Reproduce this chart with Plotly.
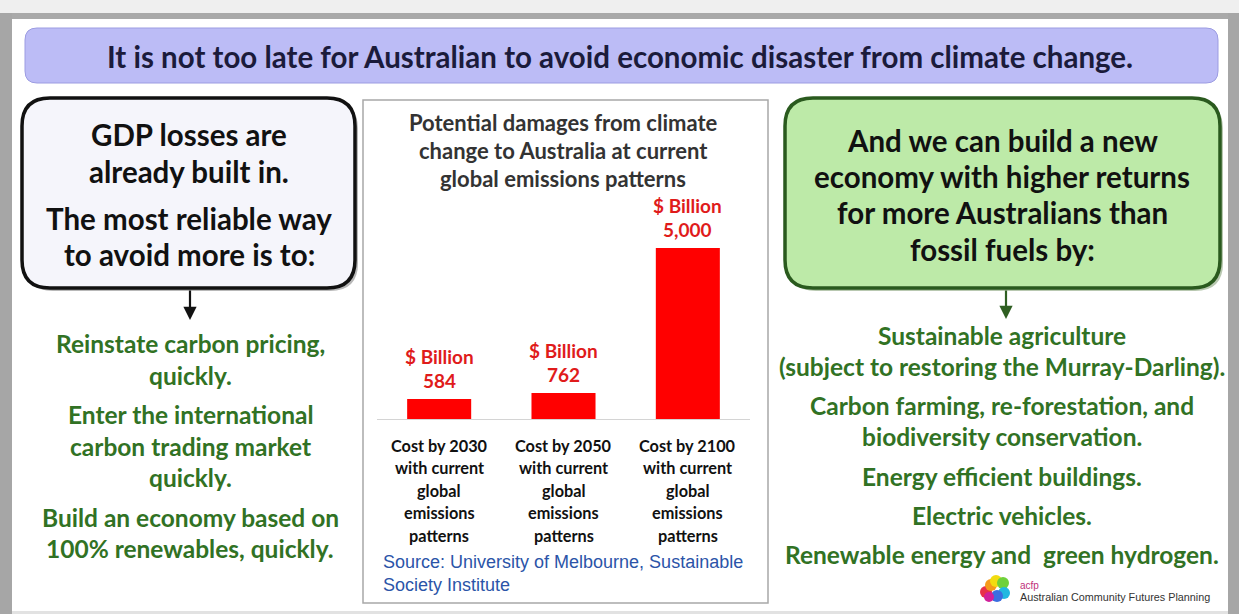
import plotly.graph_objects as go

W, H = 1239, 614

# ---------------- data ----------------
categories = ["Cost by 2030", "Cost by 2050", "Cost by 2100"]
damages = [584, 762, 5000]                      # $ Billion
value_labels = ["584", "762", "5,000"]
unit_label = "$ Billion"
category_lines = [
    ["Cost by 2030", "with current", "global", "emissions", "patterns"],
    ["Cost by 2050", "with current", "global", "emissions", "patterns"],
    ["Cost by 2100", "with current", "global", "emissions", "patterns"],
]
chart_title_lines = ["Potential damages from climate",
                     "change to Australia at current",
                     "global emissions patterns"]
source_lines = ["Source: University of Melbourne, Sustainable",
                "Society Institute"]
main_title = "It is not too late for Australian to avoid economic disaster from climate change."
left_box_lines = ["GDP losses are", "already built in.",
                  "The most reliable way", "to avoid more is to:"]
left_actions = ["Reinstate carbon pricing,", "quickly.",
                "Enter the international", "carbon trading market", "quickly.",
                "Build an economy based on", "100% renewables, quickly."]
right_box_lines = ["And we can build a new", "economy with higher returns",
                   "for more Australians than", "fossil fuels by:"]
right_actions = ["Sustainable agriculture",
                 "(subject to restoring the Murray-Darling).",
                 "Carbon farming, re-forestation, and",
                 "biodiversity conservation.",
                 "Energy efficient buildings.",
                 "Electric vehicles.",
                 "Renewable energy and  green hydrogen."]
logo_name = "acfp"
logo_text = "Australian Community Futures Planning"

# ---------------- helpers ----------------
def X(px):
    return px / W

def Y(py):
    return 1 - py / H

def rrect(x0, y0, x1, y1, r):
    pts = [
        f"M {X(x0 + r)},{Y(y0)}",
        f"L {X(x1 - r)},{Y(y0)}",
        f"Q {X(x1)},{Y(y0)} {X(x1)},{Y(y0 + r)}",
        f"L {X(x1)},{Y(y1 - r)}",
        f"Q {X(x1)},{Y(y1)} {X(x1 - r)},{Y(y1)}",
        f"L {X(x0 + r)},{Y(y1)}",
        f"Q {X(x0)},{Y(y1)} {X(x0)},{Y(y1 - r)}",
        f"L {X(x0)},{Y(y0 + r)}",
        f"Q {X(x0)},{Y(y0)} {X(x0 + r)},{Y(y0)}",
        "Z",
    ]
    return " ".join(pts)

FONT = "Lato"
GREEN_TXT = "#317224"
RED = "#ff0000"

fig = go.Figure()

fig.add_trace(go.Bar(
    x=categories, y=damages,
    marker=dict(color=RED, line=dict(width=0)),
    hoverinfo="skip", showlegend=False,
))

shapes = []
ann = []

# screenshot frame
shapes.append(dict(type="rect", xref="paper", yref="paper", x0=X(0), x1=X(W), y0=Y(0), y1=Y(13),
                   fillcolor="#efefef", line=dict(width=0), layer="below"))
shapes.append(dict(type="rect", xref="paper", yref="paper", x0=X(0), x1=X(W), y0=Y(13), y1=Y(19),
                   fillcolor="#a9a9a9", line=dict(width=0), layer="below"))
shapes.append(dict(type="rect", xref="paper", yref="paper", x0=X(0), x1=X(12), y0=Y(13), y1=Y(H),
                   fillcolor="#a6a6a6", line=dict(width=0), layer="below"))
shapes.append(dict(type="rect", xref="paper", yref="paper", x0=X(1228), x1=X(W), y0=Y(13), y1=Y(H),
                   fillcolor="#a6a6a6", line=dict(width=0), layer="below"))
shapes.append(dict(type="rect", xref="paper", yref="paper", x0=X(12), x1=X(1228), y0=Y(H), y1=Y(611),
                   fillcolor="#e2e2e2", line=dict(width=0), layer="below"))

# title bar
shapes.append(dict(type="path", xref="paper", yref="paper", path=rrect(25, 28, 1218, 83, 12),
                   fillcolor="#bcbcf6", line=dict(color="#9c9ce2", width=1), layer="below"))
ann.append(dict(x=X(620), y=Y(56), xref="paper", yref="paper", text=main_title, showarrow=False,
                font=dict(family=FONT, size=29.5, color="#1b1b3b", weight="bold"),
                xanchor="center", yanchor="middle"))

# left box (shadow + box)
shapes.append(dict(type="path", xref="paper", yref="paper", path=rrect(25, 101, 358, 291, 28),
                   fillcolor="#b8b8b8", line=dict(width=0), layer="below"))
shapes.append(dict(type="path", xref="paper", yref="paper", path=rrect(22, 98, 355, 288, 28),
                   fillcolor="#f5f5fb", line=dict(color="#111111", width=3.5), layer="below"))
for t, yy in zip(left_box_lines, [134, 171, 219, 255]):
    ann.append(dict(x=X(189), y=Y(yy), xref="paper", yref="paper", text=t, showarrow=False,
                    font=dict(family=FONT, size=29.5, color="#111111", weight="bold"),
                    xanchor="center", yanchor="middle"))

# right box (shadow + box)
shapes.append(dict(type="path", xref="paper", yref="paper", path=rrect(788, 101, 1223, 291, 28),
                   fillcolor="#b8c8b0", line=dict(width=0), layer="below"))
shapes.append(dict(type="path", xref="paper", yref="paper", path=rrect(785, 98, 1220, 288, 28),
                   fillcolor="#bdeaa8", line=dict(color="#2a5a1e", width=3.5), layer="below"))
for t, yy in zip(right_box_lines, [140, 176, 213, 250]):
    ann.append(dict(x=X(1002), y=Y(yy), xref="paper", yref="paper", text=t, showarrow=False,
                    font=dict(family=FONT, size=29.5, color="#111111", weight="bold"),
                    xanchor="center", yanchor="middle"))

# arrows
ann.append(dict(x=X(190), y=Y(320), xref="paper", yref="paper", ax=0, ay=-31, text="",
                showarrow=True, arrowhead=2, arrowsize=1.2, arrowwidth=2.2, arrowcolor="#111111"))
ann.append(dict(x=X(1006), y=Y(319), xref="paper", yref="paper", ax=0, ay=-30, text="",
                showarrow=True, arrowhead=2, arrowsize=1.2, arrowwidth=2.2, arrowcolor="#2f5f22"))

# left actions
for t, yy in zip(left_actions, [343, 375, 414, 446, 477, 517, 548]):
    ann.append(dict(x=X(190), y=Y(yy), xref="paper", yref="paper", text=t, showarrow=False,
                    font=dict(family=FONT, size=24.5, color=GREEN_TXT, weight="bold"),
                    xanchor="center", yanchor="middle"))

# right actions
for t, yy in zip(right_actions, [335, 366, 405, 436, 476, 515, 554]):
    ann.append(dict(x=X(1002), y=Y(yy), xref="paper", yref="paper", text=t, showarrow=False,
                    font=dict(family=FONT, size=24.5, color=GREEN_TXT, weight="bold"),
                    xanchor="center", yanchor="middle"))

# chart panel
shapes.append(dict(type="rect", xref="paper", yref="paper", x0=X(363), x1=X(768), y0=Y(603), y1=Y(100),
                   fillcolor="white", line=dict(color="#a8a8a8", width=1.5), layer="below"))
for t, yy in zip(chart_title_lines, [123, 150, 178]):
    ann.append(dict(x=X(563), y=Y(yy), xref="paper", yref="paper", text=t, showarrow=False,
                    font=dict(family=FONT, size=22, color="#333333", weight="bold"),
                    xanchor="center", yanchor="middle"))

# value labels above bars (positioned from the category index and the value)
for i, (v, lab) in enumerate(zip(damages, value_labels)):
    ann.append(dict(x=i, y=v, xref="x", yref="y", text=lab, showarrow=False, yshift=5,
                    font=dict(family=FONT, size=19, color="#e01b1b", weight="bold"),
                    xanchor="center", yanchor="bottom"))
    ann.append(dict(x=i, y=v, xref="x", yref="y", text=unit_label, showarrow=False, yshift=29,
                    font=dict(family=FONT, size=19, color="#e01b1b", weight="bold"),
                    xanchor="center", yanchor="bottom"))

# category labels under bars
for i, lines in enumerate(category_lines):
    for j, t in enumerate(lines):
        ann.append(dict(x=i, y=Y(445 + 22.5 * j), xref="x", yref="paper", text=t, showarrow=False,
                        font=dict(family=FONT, size=16.3, color="#111111", weight="bold"),
                        xanchor="center", yanchor="middle"))

# source
for t, yy in zip(source_lines, [562, 585]):
    ann.append(dict(x=X(381), y=Y(yy), xref="paper", yref="paper", text=t, showarrow=False,
                    font=dict(family="Liberation Sans, Arial", size=18, color="#2b54a8"),
                    xanchor="left", yanchor="middle"))

# logo blobs
blobs = [(986, 592, 6, "#e8304a"), (991, 585, 6, "#f59a1a"), (996, 581, 6, "#f2dc10"),
         (1003, 583, 6, "#6fd13a"), (1004, 593, 6, "#22b8e0"), (997, 596, 6, "#3a6fe0"),
         (989, 597, 5, "#d0209a")]
for bx, by, r, col in blobs:
    shapes.append(dict(type="circle", xref="paper", yref="paper", x0=X(bx - r), x1=X(bx + r),
                       y0=Y(by + r), y1=Y(by - r), fillcolor=col, line=dict(width=0), layer="below"))
ann.append(dict(x=X(1018), y=Y(585), xref="paper", yref="paper", text=logo_name, showarrow=False,
                font=dict(family="Liberation Sans, Arial", size=10, color="#c0307a"),
                xanchor="left", yanchor="middle"))
ann.append(dict(x=X(1018), y=Y(597), xref="paper", yref="paper", text=logo_text, showarrow=False,
                font=dict(family="Liberation Sans, Arial", size=10.8, color="#333333"),
                xanchor="left", yanchor="middle"))

fig.update_layout(
    width=W, height=H,
    margin=dict(l=0, r=0, t=0, b=0),
    paper_bgcolor="white", plot_bgcolor="rgba(0,0,0,0)",
    bargap=0.485,
    xaxis=dict(type="category", domain=[X(377), X(750)], range=[-0.5, 2.5],
               showticklabels=False, ticks="", showgrid=False, zeroline=False,
               showline=True, linecolor="#d4d4d4", linewidth=1, fixedrange=True),
    yaxis=dict(domain=[Y(419), Y(248)], range=[0, 5000], visible=False, fixedrange=True),
    shapes=shapes,
    annotations=ann,
    showlegend=False,
)

fig.write_html("out.html", config={"displayModeBar": False},
               post_script="document.body.style.margin='0';document.body.style.overflow='hidden';")
